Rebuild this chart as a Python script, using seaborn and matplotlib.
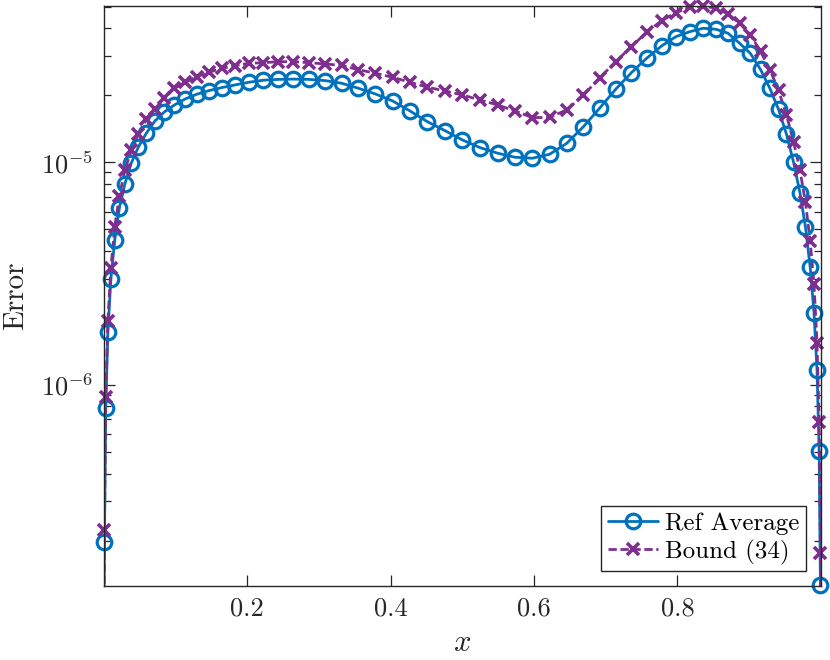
import numpy as np
import pandas as pd
import matplotlib
matplotlib.use("Agg")
import matplotlib.pyplot as plt
from matplotlib.lines import Line2D
from matplotlib.ticker import LogLocator, NullFormatter, FixedLocator
import seaborn as sns

# sample points (clustered near both ends)
x_nodes = [0.0, 0.0006, 0.0024, 0.0054, 0.0096, 0.0150, 0.0215, 0.0292, 0.0381, 0.0480,
           0.0590, 0.0711, 0.0842, 0.0983, 0.1134, 0.1295, 0.1464, 0.1642, 0.1828, 0.2022,
           0.2222, 0.2430, 0.2643, 0.2862, 0.3087, 0.3315, 0.3548, 0.3785, 0.4025, 0.4267,
           0.4510, 0.4755, 0.5000, 0.5245, 0.5490, 0.5733, 0.5975, 0.6215, 0.6452, 0.6685,
           0.6913, 0.7138, 0.7357, 0.7570, 0.7778, 0.7978, 0.8172, 0.8358, 0.8536, 0.8705,
           0.8866, 0.9017, 0.9158, 0.9289, 0.9410, 0.9520, 0.9619, 0.9708, 0.9785, 0.9850,
           0.9904, 0.9946, 0.9976, 0.9994, 1.0]

ref_average = [1.0e-7, 1.97e-7, 7.86e-7, 1.72e-6, 2.99e-6, 4.48e-6, 6.25e-6, 8.01e-6, 9.93e-6, 1.171e-5,
               1.350e-5, 1.533e-5, 1.682e-5, 1.808e-5, 1.924e-5, 2.020e-5, 2.097e-5, 2.163e-5, 2.224e-5, 2.287e-5,
               2.335e-5, 2.355e-5, 2.362e-5, 2.355e-5, 2.325e-5, 2.263e-5, 2.149e-5, 2.026e-5, 1.885e-5, 1.700e-5,
               1.522e-5, 1.387e-5, 1.259e-5, 1.163e-5, 1.098e-5, 1.053e-5, 1.042e-5, 1.086e-5, 1.214e-5, 1.441e-5,
               1.748e-5, 2.127e-5, 2.525e-5, 2.931e-5, 3.328e-5, 3.664e-5, 3.858e-5, 3.996e-5, 3.955e-5, 3.795e-5,
               3.423e-5, 3.080e-5, 2.610e-5, 2.145e-5, 1.726e-5, 1.337e-5, 1.000e-5, 7.30e-6, 5.12e-6, 3.40e-6,
               2.11e-6, 1.17e-6, 5.05e-7, 1.26e-7, 1.0e-7]

bound_34 = [1.0e-7, 2.23e-7, 8.81e-7, 1.94e-6, 3.34e-6, 5.14e-6, 7.06e-6, 9.23e-6, 1.135e-5, 1.340e-5,
            1.557e-5, 1.739e-5, 1.948e-5, 2.149e-5, 2.282e-5, 2.423e-5, 2.535e-5, 2.642e-5, 2.714e-5, 2.782e-5,
            2.799e-5, 2.828e-5, 2.828e-5, 2.799e-5, 2.762e-5, 2.720e-5, 2.604e-5, 2.509e-5, 2.408e-5, 2.287e-5,
            2.172e-5, 2.091e-5, 2.005e-5, 1.904e-5, 1.808e-5, 1.700e-5, 1.586e-5, 1.590e-5, 1.717e-5, 1.995e-5,
            2.390e-5, 2.828e-5, 3.305e-5, 3.835e-5, 4.323e-5, 4.695e-5, 4.966e-5, 5.030e-5, 4.914e-5, 4.633e-5,
            4.213e-5, 3.729e-5, 3.150e-5, 2.604e-5, 2.101e-5, 1.631e-5, 1.236e-5, 9.23e-6, 6.61e-6, 4.45e-6,
            2.84e-6, 1.55e-6, 6.84e-7, 1.76e-7, 1.0e-7]

x_ticks = [0.2, 0.4, 0.6, 0.8]

blue = "#0072BD"
purple = "#7E2F8E"
ink = "#262626"

df = pd.DataFrame({"x": x_nodes, "ref": ref_average, "bound": bound_34})
shown = df.iloc[1:-1]  # end values fall below the axis, no marker there

sns.set_style("ticks")
plt.rcParams["font.family"] = ["serif"]
plt.rcParams["font.serif"] = ["cmr10", "DejaVu Serif"]
plt.rcParams["mathtext.fontset"] = "cm"
plt.rcParams["axes.unicode_minus"] = False
plt.rcParams["axes.formatter.use_mathtext"] = True

lw = 2.0
dash = (0, (3.0, 1.3))

fig = plt.figure(figsize=(8.3, 6.6), dpi=100)
ax = fig.add_axes([0.1253, 0.1121, 0.8637, 0.8788])

# lines (clipped at the axes)
sns.lineplot(data=df, x="x", y="ref", ax=ax, color=blue, lw=lw, sort=False, estimator=None)
sns.lineplot(data=df, x="x", y="bound", ax=ax, color=purple, lw=lw, ls=dash,
             sort=False, estimator=None)
# markers (not clipped, like matlab)
sns.lineplot(data=shown, x="x", y="ref", ax=ax, color=blue, ls="none", marker="o", ms=10.5,
             mfc="none", mec=blue, mew=2.3, sort=False, estimator=None, clip_on=False)
sns.lineplot(data=shown, x="x", y="bound", ax=ax, color=purple, ls="none", marker="x", ms=8,
             mec=purple, mew=2.6, sort=False, estimator=None, clip_on=False)

ax.set_yscale("log")
ax.set_xlim(0, 1)
ax.set_ylim(1.25e-7, 5.03e-5)

ax.xaxis.set_major_locator(FixedLocator(x_ticks))
ax.set_xticklabels([f"{t:.1f}" for t in x_ticks])
ax.yaxis.set_major_locator(LogLocator(base=10, numticks=10))
ax.yaxis.set_minor_locator(LogLocator(base=10, subs=np.arange(2, 10), numticks=20))
ax.yaxis.set_minor_formatter(NullFormatter())

ax.tick_params(which="both", direction="in", top=True, right=True, colors=ink,
               labelsize=19, width=0.9)
ax.tick_params(which="major", length=8, pad=8)
ax.tick_params(which="minor", length=5)
for s in ax.spines.values():
    s.set_color(ink)
    s.set_linewidth(1.0)

ax.set_xlabel("$x$", fontsize=22, color=ink, labelpad=6)
ax.set_ylabel("Error", fontsize=21, color=ink, labelpad=8)

handles = [
    Line2D([], [], color=blue, lw=lw, marker="o", ms=10.5, mfc="none", mew=2.3),
    Line2D([], [], color=purple, lw=lw, ls=dash, marker="x", ms=8, mew=2.6),
]
leg = ax.legend(handles, ["Ref Average", "Bound (34)"], loc="lower right", fontsize=18,
                frameon=True, fancybox=False, framealpha=1, edgecolor=ink,
                handlelength=2.0, handletextpad=0.3, borderpad=0.25, labelspacing=0.2,
                borderaxespad=0.6)
leg.get_frame().set_linewidth(1.0)
for t in leg.get_texts():
    t.set_color("black")

fig.savefig("out.png", dpi=100)
